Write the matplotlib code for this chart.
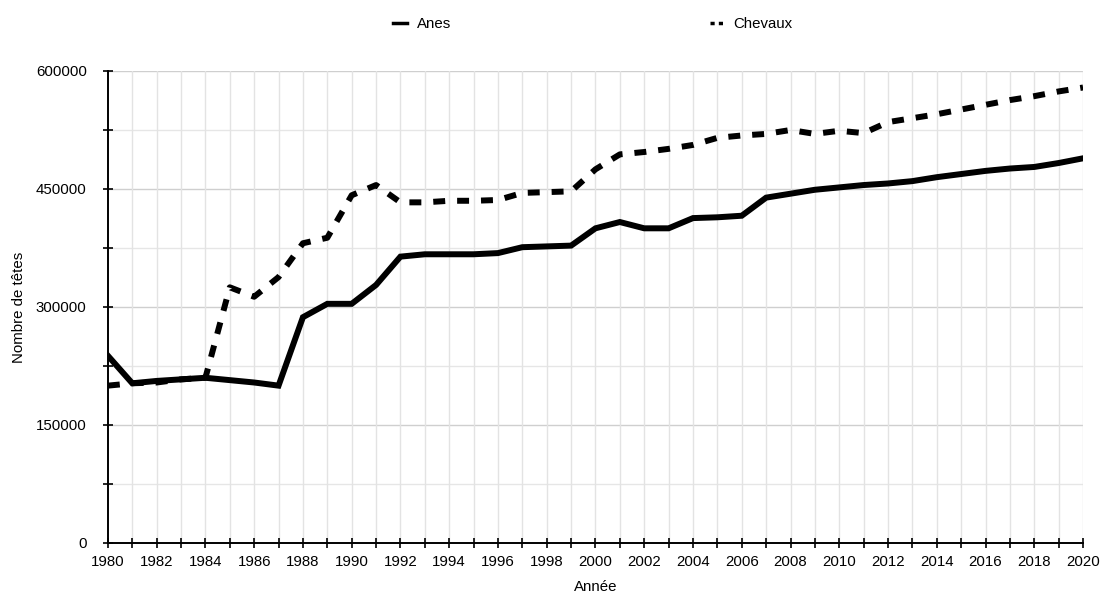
import matplotlib
matplotlib.use("Agg")
import matplotlib.pyplot as plt
from matplotlib.ticker import MultipleLocator, FuncFormatter
from matplotlib.lines import Line2D

plt.rcParams['font.family'] = ['Liberation Sans', 'DejaVu Sans']

years = list(range(1980, 2021))
anes = [238000, 203000, 206000, 208000, 210000, 207000, 204000, 200000,
        287000, 304000, 304000, 328000, 364000, 367000, 367000, 367000,
        368500, 376000, 377000, 378000, 400000, 408000, 400000, 400000,
        413000, 414000, 416000, 439000, 444000, 449000, 452000, 455000,
        457000, 460000, 465000, 469000, 473000, 476000, 478000, 483000,
        489000]
chevaux = [200000, 203000, 204000, 208000, 210000, 325000, 313000, 338000,
           381000, 388000, 442000, 455000, 433000, 433000, 435000, 435000,
           436000, 445000, 446000, 447000, 475000, 494000, 497000, 501000,
           506000, 515000, 518000, 520000, 525000, 520000, 524000, 521000,
           535000, 540000, 545000, 551000, 557000, 563000, 568000, 574000,
           579000]

FS = 10.8

fig = plt.figure(figsize=(11.01, 5.94), dpi=100)
ax = fig.add_axes([0.098, 0.0859, 0.8857, 0.7946])

ax.set_xlim(1980, 2020)
ax.set_ylim(0, 600000)

# grid
for y in range(75000, 600001, 75000):
    c = '#cfcfcf' if y % 150000 == 0 else '#e6e6e6'
    ax.axhline(y, color=c, lw=1.0, zorder=0)
for x in years[1:]:
    ax.axvline(x, color='#e3e3e3', lw=1.0, zorder=0)

la, = ax.plot(years, anes, color='black', lw=4.3, solid_joinstyle='miter',
              label='Anes', zorder=3)
lc, = ax.plot(years, chevaux, color='black', lw=4.3, dash_capstyle='butt',
              label='Chevaux', zorder=3)
lc.set_dashes([2, 2])

for s in ['top', 'right']:
    ax.spines[s].set_visible(False)
for s in ['left', 'bottom']:
    ax.spines[s].set_linewidth(1.4)
    ax.spines[s].set_color('black')

ax.xaxis.set_major_locator(MultipleLocator(2))
ax.xaxis.set_minor_locator(MultipleLocator(1))
ax.yaxis.set_major_locator(MultipleLocator(150000))
ax.yaxis.set_minor_locator(MultipleLocator(75000))
ax.tick_params(which='both', direction='inout', length=7.5, width=1.2,
               labelsize=FS, colors='black')
ax.tick_params(axis='x', pad=5)
ax.tick_params(axis='y', pad=11.5)
ax.yaxis.set_major_formatter(FuncFormatter(lambda v, p: f"{int(v)}"))

ax.set_xlabel('Année', fontsize=FS, labelpad=8)
ax.set_ylabel('Nombre de têtes', fontsize=FS, labelpad=7)

h1 = Line2D([], [], color='black', lw=2.5)
h2 = Line2D([], [], color='black', lw=2.5, dashes=[1.2, 1.2])
fig.legend([h1, h2], ['Anes', 'Chevaux'], loc='center',
           bbox_to_anchor=(0.5386, 0.9596), ncol=2, frameon=False,
           fontsize=FS, handlelength=0.92, handletextpad=0.68,
           columnspacing=17.2)

fig.savefig('out.png', dpi=100)
